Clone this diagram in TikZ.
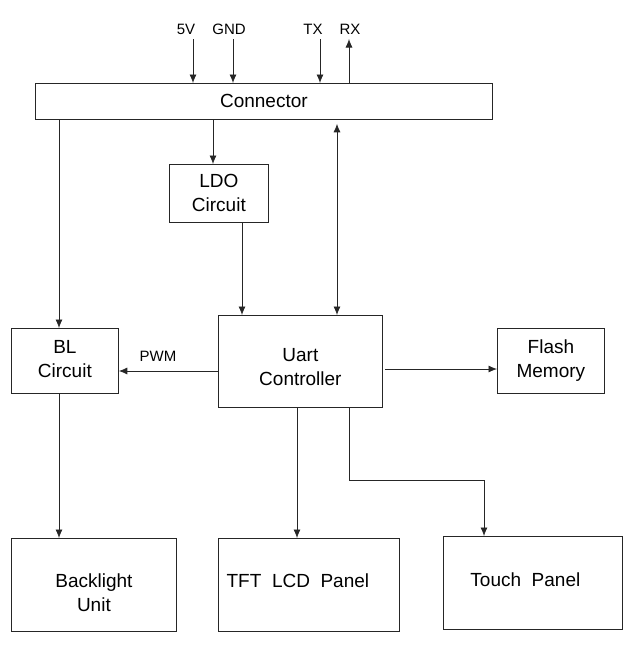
\documentclass[tikz,border=0pt]{standalone}
\usepackage{fontspec}
\setmainfont{Liberation Sans}
\usetikzlibrary{arrows.meta,calc}
\newcommand\dnshift[2]{\raisebox{-#1}[\dimexpr\height+#1\relax][\dimexpr\depth+#1\relax]{#2}}
\newcommand\upshift[2]{\raisebox{#1}[\dimexpr\height+#1\relax][\dimexpr\depth+#1\relax]{#2}}
\newcommand\twolines[2]{\begin{tabular}{@{}c@{}}#1\\#2\end{tabular}}
\begin{document}
\begin{tikzpicture}[x=1pt,y=-1pt,
  box/.style={draw=black!85, line width=0.8pt, anchor=north west, inner sep=0pt, align=center,
    font=\fontsize{19}{24}\selectfont},
  arr/.style={-{Latex[length=8.5pt,width=7pt]}, line width=0.8pt, draw=black!85},
  darr/.style={{Latex[length=8.5pt,width=7pt]}-{Latex[length=8.5pt,width=7pt]}, line width=0.8pt, draw=black!85},
  lbl/.style={font=\fontsize{15}{17}\selectfont, inner sep=0pt}]
\useasboundingbox (0,0) rectangle (638,646);
% boxes
\node[box, minimum width=457pt, minimum height=36pt] (conn) at (35,83) {Connector};
\node[box, minimum width=99pt, minimum height=58pt] (ldo) at (169,164) {\dnshift{1pt}{\twolines{LDO}{Circuit}}};
\node[box, minimum width=107pt, minimum height=65pt] (bl) at (11,328) {\twolines{BL}{Circuit}};
\node[box, minimum width=164pt, minimum height=92pt] (uart) at (218,315) {\dnshift{7pt}{\twolines{Uart}{Controller}}};
\node[box, minimum width=107pt, minimum height=65pt] (flash) at (497,328) {\twolines{Flash}{Memory}};
\node[box, minimum width=165pt, minimum height=93pt] (blu) at (11,538) {\dnshift{10pt}{\twolines{Backlight}{Unit}}};
\node[box, minimum width=181pt, minimum height=93pt] (tft) at (218,538) {\upshift{4pt}{TFT~~LCD~~Panel}\hspace{22pt}};
\node[box, minimum width=179pt, minimum height=93pt] (touch) at (443,536) {\upshift{3pt}{Touch~~Panel}\hspace{15pt}};
% top labels
\node[lbl] (l5v) at (186,29) {5V};
\node[lbl] (lgnd) at (229,29) {GND};
\node[lbl] (ltx) at (313,29) {TX};
\node[lbl] (lrx) at (350,29) {RX};
\coordinate (p5v) at (193,39);
\coordinate (pgnd) at (233,39);
\coordinate (ptx) at (320,39);
\coordinate (prx) at (349,39);
\draw[arr] (p5v) -- (conn.north -| p5v);
\draw[arr] (pgnd) -- (conn.north -| pgnd);
\draw[arr] (ptx) -- (conn.north -| ptx);
\draw[arr] (conn.north -| prx) -- (prx);
% connections
\path ($(bl.north west)+(48,0)$) coordinate (blin);
\draw[arr] (conn.south -| blin) -- (blin);
\path ($(ldo.north west)+(44,0)$) coordinate (ldoin);
\draw[arr] (conn.south -| ldoin) -- (ldoin);
\path ($(uart.north west)+(24,0)$) coordinate (uartin);
\draw[arr] (ldo.south -| uartin) -- (uartin);
\path ($(uart.north west)+(119,0)$) coordinate (uartbus);
\draw[darr] ($(conn.south -| uartbus)+(0,4)$) -- (uartbus);
\path ($(uart.north west)+(0,56)$) coordinate (pwmout);
\draw[arr] (pwmout) -- (bl.east |- pwmout);
\node[lbl] (lpwm) at (158,356) {PWM};
\path ($(uart.north east)+(2,54)$) coordinate (flout);
\draw[arr] (flout) -- (flash.west |- flout);
\path ($(blu.north west)+(48,0)$) coordinate (bluin);
\draw[arr] (bl.south -| bluin) -- (bluin);
\path ($(tft.north west)+(79,0)$) coordinate (tftin);
\draw[arr] (uart.south -| tftin) -- (tftin);
\path ($(uart.south west)+(131,0)$) coordinate (tchout);
\path ($(touch.north west)+(41,0)$) coordinate (tchin);
\coordinate (tchbend) at ($(tchout)+(0,73)$);
\draw[arr] (tchout) -- (tchbend) -| (tchin);
\end{tikzpicture}
\end{document}
